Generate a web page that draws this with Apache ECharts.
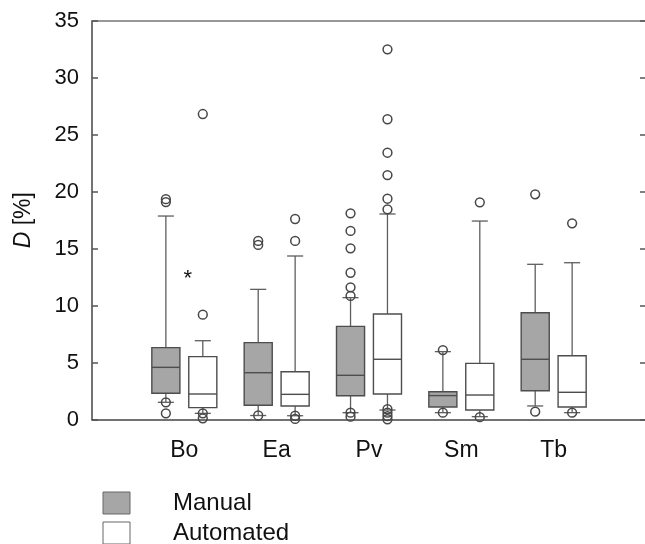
<!DOCTYPE html>
<html><head><meta charset="utf-8">
<script src="https://cdn.jsdelivr.net/npm/echarts@6/dist/echarts.min.js"></script>
<style>html,body{margin:0;padding:0;background:#fff}#c{width:645px;height:544px}</style>
</head><body><div id="c"></div>
<script>
const categories = ['Bo', 'Ea', 'Pv', 'Sm', 'Tb'];
const yTicks = [0, 5, 10, 15, 20, 25, 30, 35];
const seriesNames = ['Manual', 'Automated'];

// Manual: whisker low, Q1, median, Q3, whisker high
const manualLow    = [1.51, 0.35, 0.60, 0.60, 1.19];
const manualQ1     = [2.30, 1.25, 2.08, 1.10, 2.53];
const manualMedian = [4.58, 4.11, 3.88, 2.10, 5.29];
const manualQ3     = [6.31, 6.75, 8.18, 2.44, 9.38];
const manualHigh   = [17.87, 11.43, 10.70, 5.96, 13.63];
const manualOutliers = [
  [19.10, 19.35, 1.51, 0.54],
  [15.68, 15.33, 0.35],
  [18.11, 16.56, 15.03, 12.89, 11.61, 10.85, 0.60, 0.25],
  [6.10, 0.60],
  [19.78, 0.69]
];

// Automated
const autoLow    = [0.54, 0.33, 0.83, 0.25, 0.60];
const autoQ1     = [1.04, 1.19, 2.24, 0.83, 1.10];
const autoMedian = [2.24, 2.21, 5.29, 2.15, 2.39];
const autoQ3     = [5.52, 4.20, 9.27, 4.93, 5.60];
const autoHigh   = [6.92, 14.36, 18.05, 17.43, 13.77];
const autoOutliers = [
  [26.83, 9.21, 0.54, 0.10],
  [17.61, 15.68, 0.33, 0.05],
  [32.51, 26.37, 23.43, 21.47, 19.39, 18.46, 0.90, 0.60, 0.30, 0.02],
  [19.07, 0.20],
  [17.23, 0.60]
];

// significance mark
const markCategory = 'Bo';
const markValue = 12.8;
const markText = '*';

const manualFill = '#a6a6a6';
const autoFill = '#ffffff';
const edge = '#4d4d4d';
const whiskerColor = '#5e5e5e';

function boxData(lo, q1, md, q3, hi) {
  return categories.map((c, i) => [c, lo[i], q1[i], md[i], q3[i], hi[i]]);
}
function outlierData(list) {
  const out = [];
  categories.forEach((c, i) => list[i].forEach(v => out.push([c, v])));
  return out;
}

function boxRenderer(side, fill) {
  return function (params, api) {
    const cat = api.value(0);
    const band = api.size([1, 0])[0];
    const dx = side * band * 0.2;
    const hw = band * 0.152;
    const cw = band * 0.087;
    const pt = v => { const p = api.coord([cat, v]); return [p[0] + dx, p[1]]; };
    const lo = pt(api.value(1)), q1 = pt(api.value(2)), md = pt(api.value(3)),
          q3 = pt(api.value(4)), hi = pt(api.value(5));
    const x = lo[0];
    const ws = { stroke: whiskerColor, lineWidth: 1.3, fill: null };
    const bs = { stroke: edge, lineWidth: 1.4 };
    return {
      type: 'group',
      children: [
        { type: 'line', shape: { x1: x, y1: hi[1], x2: x, y2: q3[1] }, style: ws },
        { type: 'line', shape: { x1: x, y1: q1[1], x2: x, y2: lo[1] }, style: ws },
        { type: 'line', shape: { x1: x - cw, y1: hi[1], x2: x + cw, y2: hi[1] }, style: ws },
        { type: 'line', shape: { x1: x - cw, y1: lo[1], x2: x + cw, y2: lo[1] }, style: ws },
        { type: 'rect', shape: { x: x - hw, y: q3[1], width: 2 * hw, height: q1[1] - q3[1] },
          style: { fill: fill, stroke: edge, lineWidth: 1.4 } },
        { type: 'line', shape: { x1: x - hw, y1: md[1], x2: x + hw, y2: md[1] }, style: bs }
      ]
    };
  };
}
function outlierRenderer(side) {
  return function (params, api) {
    const band = api.size([1, 0])[0];
    const p = api.coord([api.value(0), api.value(1)]);
    return {
      type: 'circle',
      shape: { cx: p[0] + side * band * 0.2, cy: p[1], r: 4.4 },
      style: { fill: null, stroke: '#474747', lineWidth: 1.5 }
    };
  };
}

const chart = echarts.init(document.getElementById('c'), null, { renderer: 'canvas' });
chart.setOption({
  animation: false,
  backgroundColor: '#fff',
  textStyle: { fontFamily: 'Liberation Sans, Arial, sans-serif' },
  grid: { left: 92, right: -1, top: 21, bottom: 124.5, outerBoundsMode: 'none', containLabel: false },
  legend: {
    orient: 'vertical',
    left: 102.5,
    top: 491,
    height: 80,
    padding: 0,
    itemWidth: 27,
    itemHeight: 22,
    itemGap: 6,
    selectedMode: false,
    textStyle: { fontSize: 24, lineHeight: 22, color: '#111', padding: [0, 0, 0, 38] },
    data: [
      { name: seriesNames[0], icon: 'rect', itemStyle: { color: manualFill, borderColor: '#666', borderWidth: 1 } },
      { name: seriesNames[1], icon: 'rect', itemStyle: { color: autoFill, borderColor: '#666', borderWidth: 1 } }
    ]
  },
  xAxis: [{
    type: 'category',
    data: [''].concat(categories, ['']),
    boundaryGap: false,
    axisLine: { show: true, lineStyle: { color: '#444', width: 1.5 } },
    axisTick: { show: false },
    axisLabel: { interval: 0, fontSize: 23, color: '#111', margin: 20 },
    splitLine: { show: false }
  }, {
    type: 'value',
    position: 'top',
    min: 0, max: 1,
    axisLine: { show: true, onZero: false, lineStyle: { color: '#777', width: 1.5 } },
    axisTick: { show: false },
    axisLabel: { show: false },
    splitLine: { show: false }
  }],
  yAxis: [{
    type: 'value',
    min: yTicks[0], max: yTicks[yTicks.length - 1], interval: 5,
    name: '{i|D} [%]',
    nameLocation: 'middle',
    nameGap: 57,
    nameTextStyle: { fontSize: 23, color: '#111', rich: { i: { fontStyle: 'italic', fontSize: 23, color: '#111' } } },
    axisLine: { show: true, lineStyle: { color: '#444', width: 1.5 } },
    axisTick: { show: true, inside: true, length: 6, lineStyle: { color: '#555', width: 1.5 } },
    axisLabel: { fontSize: 22, color: '#111', margin: 13 },
    splitLine: { show: false }
  }, {
    type: 'value',
    position: 'right',
    min: yTicks[0], max: yTicks[yTicks.length - 1], interval: 5,
    axisLine: { show: false },
    axisTick: { show: true, inside: true, length: 6, lineStyle: { color: '#555', width: 1.5 } },
    axisLabel: { show: false },
    splitLine: { show: false }
  }],
  series: [
    { name: seriesNames[0], type: 'custom', renderItem: boxRenderer(-1, manualFill),
      itemStyle: { color: manualFill }, encode: { x: 0, y: [1, 2, 3, 4, 5] },
      data: boxData(manualLow, manualQ1, manualMedian, manualQ3, manualHigh), z: 2 },
    { name: seriesNames[1], type: 'custom', renderItem: boxRenderer(1, autoFill),
      itemStyle: { color: autoFill }, encode: { x: 0, y: [1, 2, 3, 4, 5] },
      data: boxData(autoLow, autoQ1, autoMedian, autoQ3, autoHigh), z: 2 },
    { name: seriesNames[0], type: 'custom', renderItem: outlierRenderer(-1),
      encode: { x: 0, y: 1 }, data: outlierData(manualOutliers), z: 3 },
    { name: seriesNames[1], type: 'custom', renderItem: outlierRenderer(1),
      encode: { x: 0, y: 1 }, data: outlierData(autoOutliers), z: 3 },
    { name: 'mark', type: 'custom', encode: { x: 0, y: 1 },
      data: [[markCategory, markValue]],
      renderItem: function (params, api) {
        const p = api.coord([api.value(0), api.value(1)]);
        return { type: 'text', x: p[0] + 3.5, y: p[1] + 5,
          style: { text: markText, fontSize: 22, fill: '#111', align: 'center', verticalAlign: 'middle',
                   fontFamily: 'Liberation Sans, Arial, sans-serif' } };
      }, z: 3 }
  ]
});
</script></body></html>
